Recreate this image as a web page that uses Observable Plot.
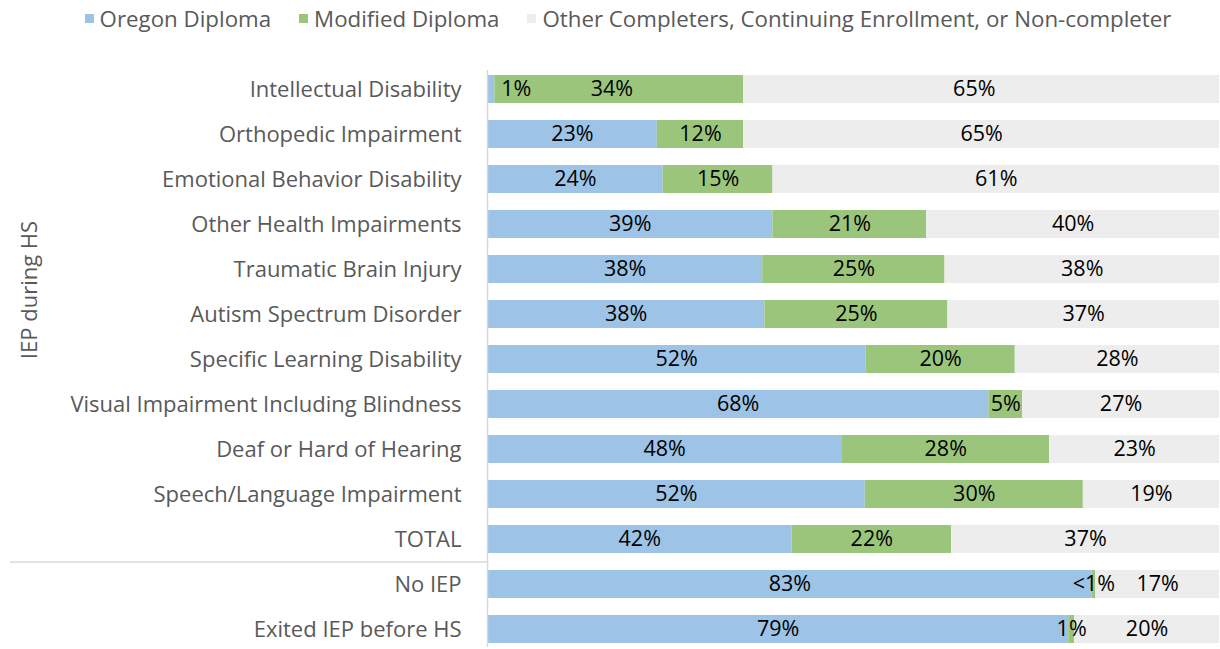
<!DOCTYPE html>
<html>
<head>
<meta charset="utf-8">
<script src="https://cdn.jsdelivr.net/npm/d3@7"></script>
<script src="https://cdn.jsdelivr.net/npm/@observablehq/plot@0.6"></script>
<style>
  html, body { margin: 0; padding: 0; background: #fff; }
  body { width: 1220px; height: 649px; overflow: hidden; font-family: "Open Sans", sans-serif; }
  #legend { height: 40px; display: flex; justify-content: center; align-items: center; font-size: 22.3px; color: #595959; padding-left: 36px; padding-bottom: 4px; box-sizing: border-box; }
  #legend .item { display: flex; align-items: center; margin: 0 14px; }
  #legend .sw { width: 9px; height: 9px; margin-right: 6px; }
  #chart svg { display: block; }
</style>
</head>
<body>
<div id="legend"></div>
<div id="chart"></div>
<script>
const categories = [
  "Intellectual Disability",
  "Orthopedic Impairment",
  "Emotional Behavior Disability",
  "Other Health Impairments",
  "Traumatic Brain Injury",
  "Autism Spectrum Disorder",
  "Specific Learning Disability",
  "Visual Impairment Including Blindness",
  "Deaf or Hard of Hearing",
  "Speech/Language Impairment",
  "TOTAL",
  "No IEP",
  "Exited IEP before HS"
];
const seriesNames = ["Oregon Diploma", "Modified Diploma", "Other Completers, Continuing Enrollment, or Non-completer"];
const seriesColors = ["#9DC3E6", "#9BC57B", "#EDEDED"];

const oregon   = [1.0, 23.2, 24.0, 39.0, 37.6, 37.9, 51.7, 68.5, 48.4, 51.6, 41.6, 82.6, 79.4];
const modified = [34.0, 11.8, 15.0, 21.0, 24.9, 25.0, 20.4, 4.6, 28.4, 29.8, 21.8, 0.5, 0.8];
const other    = [65.0, 65.0, 61.0, 40.0, 37.5, 37.1, 27.9, 26.9, 23.2, 18.6, 36.6, 16.9, 19.8];

const oregonLabels   = ["1%", "23%", "24%", "39%", "38%", "38%", "52%", "68%", "48%", "52%", "42%", "83%", "79%"];
const modifiedLabels = ["34%", "12%", "15%", "21%", "25%", "25%", "20%", "5%", "28%", "30%", "22%", "<1%", "1%"];
const otherLabels    = ["65%", "65%", "61%", "40%", "38%", "37%", "28%", "27%", "23%", "19%", "37%", "17%", "20%"];

const groupDivider = "No IEP";
const axisTitle = "IEP during HS";

const values = [oregon, modified, other];
const labels = [oregonLabels, modifiedLabels, otherLabels];
const rows = [];
categories.forEach((c, i) => {
  seriesNames.forEach((s, k) => {
    rows.push({cat: c, series: s, value: values[k][i], label: labels[k][i]});
  });
});

// legend
const legend = d3.select("#legend");
seriesNames.forEach((s, k) => {
  const it = legend.append("div").attr("class", "item");
  it.append("div").attr("class", "sw").style("background", seriesColors[k]);
  it.append("span").text(s);
});

const shifted = (d) => d.cat === categories[0] && d.series === seriesNames[0];

const chart = Plot.plot({
  width: 1220,
  height: 609,
  marginLeft: 487,
  marginRight: 1,
  marginTop: 30,
  marginBottom: 2,
  style: {fontFamily: "'Open Sans', sans-serif", fontSize: "22px", color: "#595959", background: "white"},
  x: {domain: [0, 100], axis: null},
  y: {domain: categories, paddingInner: 0.378, paddingOuter: 0.1, tickSize: 0, tickPadding: 26, label: null},
  color: {domain: seriesNames, range: seriesColors},
  marks: [
    Plot.barX(rows, {x: "value", y: "cat", fill: "series"}),
    Plot.text(rows, Plot.stackX({x: "value", y: "cat", z: "series", text: "label", fill: "black", fontSize: 21.5, filter: d => !shifted(d)})),
    Plot.text(rows, Plot.stackX({x: "value", y: "cat", z: "series", text: "label", fill: "black", fontSize: 21.5, dx: 25, filter: d => shifted(d)})),
    Plot.ruleX([0], {stroke: "#D9D9D9", strokeWidth: 1.5}),
    Plot.ruleY([groupDivider], {y: d => d, stroke: "#D9D9D9", strokeWidth: 1.5, dy: -22.5, insetLeft: -477, insetRight: 732})
  ]
});

const svg = d3.select(chart);
svg.append("text")
  .attr("transform", "translate(37,250) rotate(-90)")
  .attr("text-anchor", "middle")
  .attr("fill", "#595959")
  .style("font-size", "22px")
  .text(axisTitle);

document.getElementById("chart").appendChild(chart);
</script>
</body>
</html>
